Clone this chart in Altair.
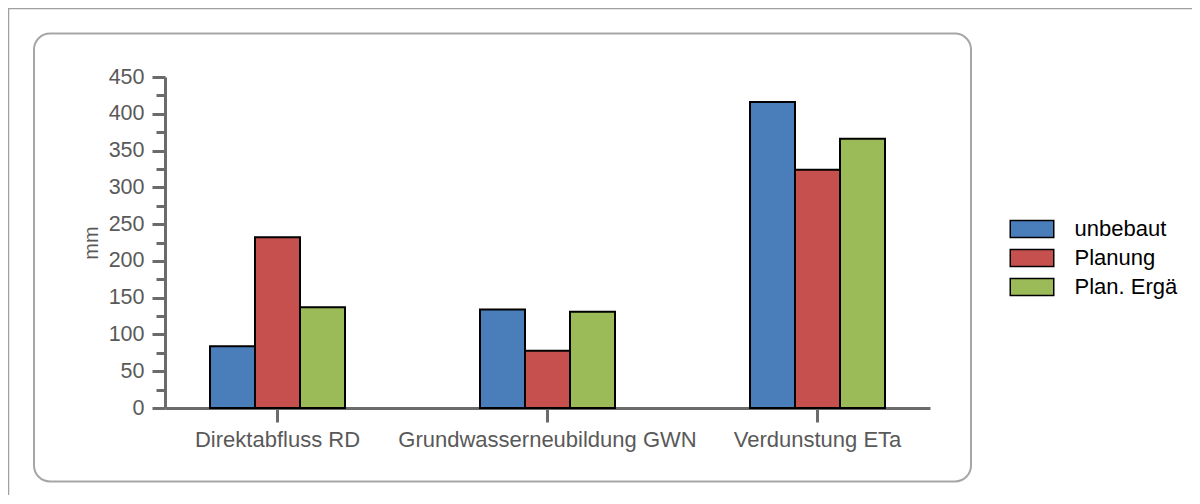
import altair as alt
import pandas as pd

# ---- data ----
categories = ["Direktabfluss RD", "Grundwasserneubildung GWN", "Verdunstung ETa"]
series = ["unbebaut", "Planung", "Plan. Ergä"]
unbebaut = [84, 134, 416]
planung = [232, 78, 324]
plan_erg = [137, 131, 366]
y_ticks = list(range(0, 451, 25))
colors = ["#4A7EBB", "#C5504D", "#9BBB59"]

rows = []
for s, vals in zip(series, [unbebaut, planung, plan_erg]):
    for c, v in zip(categories, vals):
        rows.append({"Kategorie": c, "Serie": s, "mm": v})
df = pd.DataFrame(rows)

# ---- layout ----
W, H = 765, 331
PL, PT = 157, 69
TOTAL_W, TOTAL_H = 1184, 487
GRAY = "#6b6b6b"
TXT = "#595959"

frame_data = alt.Data(values=[{"k": 1}])

outer = alt.Chart(frame_data).mark_rect(
    fill="white", fillOpacity=0, stroke="#a0a0a0", strokeWidth=1.5
).encode(
    x=alt.value(-PL + 0.5), y=alt.value(-PT + 0.5),
    x2=alt.value(TOTAL_W + 50), y2=alt.value(TOTAL_H + 50)
)

inner = alt.Chart(frame_data).mark_rect(
    fill="white", fillOpacity=0, stroke="#a6a6a6", strokeWidth=2, cornerRadius=16
).encode(
    x=alt.value(-131), y=alt.value(-43.5),
    x2=alt.value(806), y2=alt.value(404.5)
)

bars = alt.Chart(df).mark_bar(stroke="black", strokeWidth=2).encode(
    x=alt.X(
        "Kategorie:N", sort=categories,
        scale=alt.Scale(paddingInner=0.5, paddingOuter=1 / 6),
        axis=alt.Axis(
            title=None, labelAngle=0, labelFontSize=22, labelColor=TXT,
            labelPadding=7, labelLimit=0, domainColor=GRAY, domainWidth=3,
            tickColor=GRAY, tickWidth=3, tickSize=14,
        ),
    ),
    xOffset=alt.XOffset("Serie:N", sort=series,
                        scale=alt.Scale(paddingInner=0, paddingOuter=0)),
    y=alt.Y(
        "mm:Q",
        scale=alt.Scale(domain=[0, 450], nice=False),
        axis=alt.Axis(
            values=y_ticks,
            labelExpr="datum.value % 50 === 0 ? datum.label : ''",
            labelFontSize=21.5, labelColor=TXT, labelPadding=8,
            domainColor=GRAY, domainWidth=3,
            tickColor=GRAY, tickWidth=3,
            tickSize={"condition": {"test": "datum.value % 50 === 0", "value": 13}, "value": 9},
            grid=False,
            title="mm", titleFontSize=20, titleFontWeight="normal",
            titleColor=TXT, titlePadding=7,
        ),
    ),
    color=alt.Color(
        "Serie:N", sort=series,
        scale=alt.Scale(domain=series, range=colors),
        legend=alt.Legend(
            title=None, orient="none", legendX=851, legendY=136,
            symbolType="M-1.45,-0.573H1.45V0.573H-1.45Z", symbolSize=900,
            symbolStrokeColor="black", symbolStrokeWidth=1.5,
            labelFontSize=22, labelColor="black", labelOffset=26.5,
            rowPadding=1,
        ),
    ),
)

chart = alt.layer(outer, inner, bars).properties(
    width=W, height=H,
    padding={"left": PL, "top": PT, "right": TOTAL_W - PL - W, "bottom": TOTAL_H - PT - H},
    autosize=alt.AutoSizeParams(type="none"),
).configure(font="Liberation Sans").configure_view(stroke=None)

chart.save("out.html", embed_options={"renderer": "svg", "actions": False})
